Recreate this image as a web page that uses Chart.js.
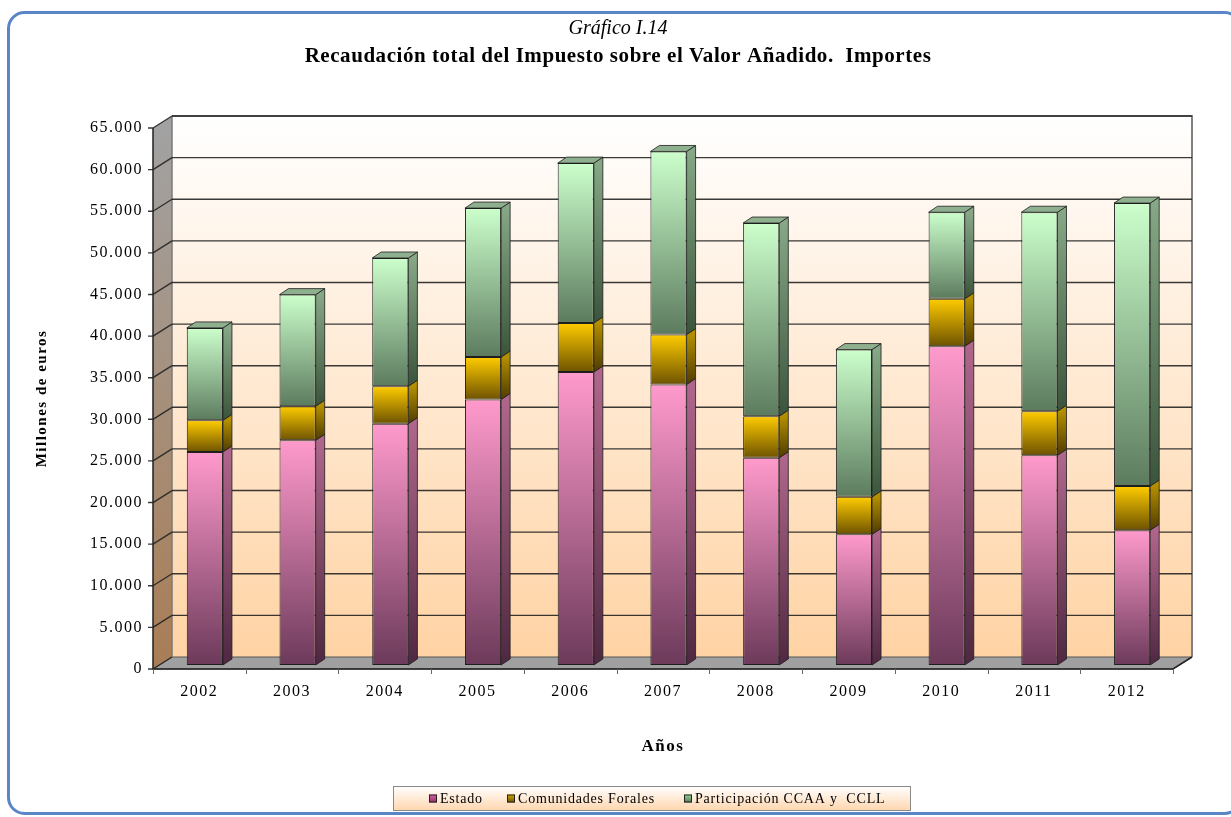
<!DOCTYPE html>
<html><head><meta charset="utf-8">
<script src="https://cdn.jsdelivr.net/npm/chart.js@4.4.1/dist/chart.umd.min.js"></script>
<style>html,body{margin:0;padding:0;background:#fff;}canvas{display:block;}</style>
</head><body>
<canvas id="c" width="1231" height="817"></canvas>
<script>
// ---- data (millones de euros) ----
const years = ['2002','2003','2004','2005','2006','2007','2008','2009','2010','2011','2012'];
const estado  = [25600, 27000, 29000, 31900, 35200, 33700, 24900, 15700, 38300, 25200, 16200];
const forales = [ 3800,  4100,  4500,  5100,  5900,  6000,  5000,  4500,  5700,  5300,  5300];
const ccaa    = [11100, 13400, 15400, 17900, 19200, 22000, 23200, 17700, 10400, 23900, 34000];
const seriesNames = ['Estado', 'Comunidades Forales', 'Participación CCAA y  CCLL'];
const titleText = 'Gráfico I.14';
const subtitleText = 'Recaudación total del Impuesto sobre el Valor Añadido.  Importes';
const yMax = 65000, yStep = 5000;

// ---- styling ----
const SERIF = "'Liberation Serif','Times New Roman',serif";
const FRONT = [['#ff9acc','#6c3a5a'], ['#ffcc00','#6e5300'], ['#ccffcc','#5c7b5e']];
const SIDE  = [['#b0668c','#4e2840'], ['#b38f00','#4f3b00'], ['#86a886','#3a543b']];
const TOP   = ['#c07a9c', '#c9a200', '#8fb08f'];
const LEGSQ = [['#e060a8','#8a2f6c'], ['#d4a800','#6e5300'], ['#9fd49f','#4f7a52']];
const WALL = {x:19, y:-12};
const BAR3D = {x:9, y:-6};
const SHIFT = {x:5.5, y:-4};

function segGrad(idx){
  return (c) => {
    const ch = c.chart, ca = ch.chartArea;
    if (!ca || c.dataIndex == null) return FRONT[idx][0];
    const ys = ch.scales.y;
    let s = 0;
    for (let k = 0; k < c.datasetIndex; k++) s += ch.data.datasets[k].data[c.dataIndex];
    const e = s + ch.data.datasets[c.datasetIndex].data[c.dataIndex];
    const g = ch.ctx.createLinearGradient(0, ys.getPixelForValue(e), 0, ys.getPixelForValue(s));
    g.addColorStop(0, FRONT[idx][0]);
    g.addColorStop(1, FRONT[idx][1]);
    return g;
  };
}

function poly(ctx, pts){
  ctx.beginPath();
  ctx.moveTo(pts[0][0], pts[0][1]);
  for (let i = 1; i < pts.length; i++) ctx.lineTo(pts[i][0], pts[i][1]);
  ctx.closePath();
}

const scene3d = {
  id: 'scene3d',
  beforeDraw(chart){
    const ctx = chart.ctx;
    ctx.save();
    ctx.fillStyle = '#fff';
    ctx.fillRect(0, 0, chart.width, chart.height);
    ctx.strokeStyle = '#5b86c5';
    ctx.lineWidth = 3;
    ctx.beginPath();
    ctx.roundRect(8.5, 12.5, 1232, 801, 16);
    ctx.stroke();
    // titles
    ctx.fillStyle = '#000';
    ctx.textAlign = 'center';
    ctx.textBaseline = 'middle';
    ctx.font = 'italic 20px ' + SERIF;
    if ('letterSpacing' in ctx) ctx.letterSpacing = '0px';
    ctx.fillText(titleText, 618, 29);
    ctx.font = 'bold 21px ' + SERIF;
    if ('letterSpacing' in ctx) ctx.letterSpacing = '0.55px';
    ctx.fillText(subtitleText, 618, 57);
    ctx.restore();
    if ('letterSpacing' in ctx) ctx.letterSpacing = '1.5px';
  },
  beforeDatasetsDraw(chart){
    const ctx = chart.ctx, ca = chart.chartArea, ys = chart.scales.y;
    const L = ca.left, R = ca.right, T = ca.top, B = ca.bottom;
    ctx.save();
    // back wall
    let g = ctx.createLinearGradient(0, T + WALL.y, 0, B + WALL.y);
    g.addColorStop(0, '#ffffff');
    g.addColorStop(1, '#ffd3a4');
    ctx.fillStyle = g;
    ctx.fillRect(L + WALL.x, T + WALL.y, R - L, B - T);
    // left wall
    g = ctx.createLinearGradient(0, T, 0, B);
    g.addColorStop(0, '#a2a2a2');
    g.addColorStop(1, '#a97d55');
    ctx.fillStyle = g;
    poly(ctx, [[L, T], [L + WALL.x, T + WALL.y], [L + WALL.x, B + WALL.y], [L, B]]);
    ctx.fill();
    // floor
    ctx.fillStyle = '#a0a0a0';
    poly(ctx, [[L, B], [R, B], [R + WALL.x, B + WALL.y], [L + WALL.x, B + WALL.y]]);
    ctx.fill();
    ctx.strokeStyle = '#555'; ctx.lineWidth = 1;
    ctx.stroke();
    // back wall border
    ctx.strokeStyle = '#808080'; ctx.lineWidth = 2;
    ctx.beginPath();
    ctx.moveTo(L + WALL.x, T + WALL.y);
    ctx.lineTo(R + WALL.x, T + WALL.y);
    ctx.lineTo(R + WALL.x, B + WALL.y);
    ctx.stroke();
    ctx.strokeStyle = '#7a7a7a'; ctx.lineWidth = 1.5;
    ctx.beginPath();
    ctx.moveTo(L + WALL.x, T + WALL.y); ctx.lineTo(L + WALL.x, B + WALL.y);
    ctx.stroke();
    // gridlines
    for (let v = 0; v <= yMax; v += yStep){
      const yf = ys.getPixelForValue(v);
      ctx.strokeStyle = 'rgba(35,35,35,0.9)'; ctx.lineWidth = 1.4;
      ctx.beginPath();
      if (v > 0){
        ctx.moveTo(L + WALL.x, yf + WALL.y);
        ctx.lineTo(R + WALL.x, yf + WALL.y);
      }
      ctx.moveTo(L, yf);
      ctx.lineTo(L + WALL.x, yf + WALL.y);
      ctx.moveTo(L - 5, yf);
      ctx.lineTo(L, yf);
      ctx.stroke();
    }
    // front axis line
    ctx.strokeStyle = '#222'; ctx.lineWidth = 1.5;
    ctx.beginPath();
    ctx.moveTo(L, T); ctx.lineTo(L, B); ctx.lineTo(R, B); ctx.lineTo(R + WALL.x, B + WALL.y);
    ctx.stroke();
    // x ticks
    const n = years.length, cw = (R - L) / n;
    ctx.strokeStyle = '#666'; ctx.lineWidth = 1;
    ctx.beginPath();
    for (let k = 0; k <= n; k++){
      const x = Math.round(L + k * cw) + 0.5;
      ctx.moveTo(x, B); ctx.lineTo(x, B + 5);
    }
    ctx.stroke();
    ctx.restore();
    // shift bars to their depth position
    ctx.save();
    ctx.translate(SHIFT.x, SHIFT.y);
  },
  afterDatasetsDraw(chart){
    const ctx = chart.ctx;
    const nd = chart.data.datasets.length;
    for (let d = 0; d < nd; d++){
      const meta = chart.getDatasetMeta(d);
      meta.data.forEach((el) => {
        const p = el.getProps(['x', 'y', 'base', 'width'], true);
        const r = p.x + p.width / 2, l = p.x - p.width / 2;
        const g = ctx.createLinearGradient(0, p.y, 0, p.base);
        g.addColorStop(0, SIDE[d][0]);
        g.addColorStop(1, SIDE[d][1]);
        ctx.fillStyle = g;
        poly(ctx, [[r, p.y], [r + BAR3D.x, p.y + BAR3D.y], [r + BAR3D.x, p.base + BAR3D.y], [r, p.base]]);
        ctx.fill();
        ctx.strokeStyle = '#1e1e1e'; ctx.lineWidth = 0.8;
        ctx.stroke();
        if (d === nd - 1){
          ctx.fillStyle = TOP[d];
          poly(ctx, [[l, p.y], [r, p.y], [r + BAR3D.x, p.y + BAR3D.y], [l + BAR3D.x, p.y + BAR3D.y]]);
          ctx.fill();
          ctx.stroke();
        }
      });
    }
    ctx.restore();
  },
  afterDraw(chart){
    const ctx = chart.ctx;
    ctx.save();
    const bx = 393.5, by = 786.5, bw = 517, bh = 24;
    const g = ctx.createLinearGradient(0, by, 0, by + bh);
    g.addColorStop(0, '#ffffff');
    g.addColorStop(1, '#ffd6ae');
    ctx.fillStyle = g;
    ctx.fillRect(bx, by, bw, bh);
    ctx.strokeStyle = '#8a8a8a'; ctx.lineWidth = 1;
    ctx.strokeRect(bx, by, bw, bh);
    const slots = [429, 507, 684];
    ctx.font = '14px ' + SERIF;
    ctx.textBaseline = 'middle';
    ctx.textAlign = 'left';
    if ('letterSpacing' in ctx) ctx.letterSpacing = '0.8px';
    chart.data.datasets.forEach((ds, i) => {
      const x = slots[i], yc = by + bh / 2;
      const sg = ctx.createLinearGradient(0, yc - 4, 0, yc + 4);
      sg.addColorStop(0, LEGSQ[i][0]);
      sg.addColorStop(1, LEGSQ[i][1]);
      ctx.fillStyle = sg;
      ctx.fillRect(x, yc - 4, 8, 8);
      ctx.strokeStyle = '#222';
      ctx.strokeRect(x + 0.5, yc - 3.5, 7, 7);
      ctx.fillStyle = '#000';
      ctx.fillText(ds.label, x + 11, yc + 1);
    });
    ctx.restore();
  }
};

const chart = new Chart(document.getElementById('c'), {
  type: 'bar',
  data: {
    labels: years,
    datasets: [
      {label: seriesNames[0], data: estado,  backgroundColor: segGrad(0)},
      {label: seriesNames[1], data: forales, backgroundColor: segGrad(1)},
      {label: seriesNames[2], data: ccaa,    backgroundColor: segGrad(2)}
    ].map(d => Object.assign(d, {borderColor: '#1e1e1e', borderWidth: 1, borderSkipped: false, categoryPercentage: 1, barPercentage: 0.39}))
  },
  options: {
    responsive: false,
    devicePixelRatio: 1,
    animation: false,
    layout: {padding: {left: 20, right: 58, top: 128, bottom: 0}},
    plugins: {
      legend: {display: false},
      tooltip: {enabled: false},
      title: {display: false},
      subtitle: {display: false}
    },
    scales: {
      x: {
        stacked: true,
        grid: {display: false, drawTicks: false},
        border: {display: false},
        ticks: {color: '#000', font: {family: SERIF, size: 16}, padding: 13},
        title: {display: true, text: 'Años', color: '#000', font: {family: SERIF, size: 17, weight: 'bold'}, padding: {top: 0, bottom: 60}},
        afterFit(s){ s.height = 148; }
      },
      y: {
        stacked: true, min: 0, max: yMax,
        grid: {display: false, drawTicks: false},
        border: {display: false},
        ticks: {stepSize: yStep, color: '#000', font: {family: SERIF, size: 16}, padding: 10,
                callback: (v) => String(v).replace(/\B(?=(\d{3})+(?!\d))/g, '.')},
        title: {display: true, text: 'Millones de euros', color: '#000', font: {family: SERIF, size: 15, weight: 'bold'}, padding: {top: 13, bottom: 0}},
        afterFit(s){ s.width = 133; }
      }
    }
  },
  plugins: [scene3d]
});
</script>
</body></html>
